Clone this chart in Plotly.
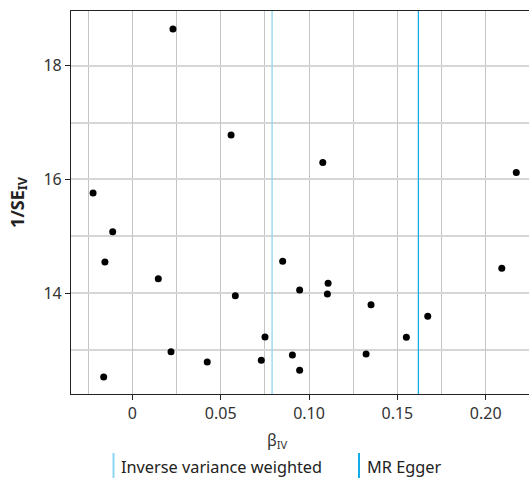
import plotly.graph_objects as go

# ---- data ----
beta_iv = [0.0230, 0.0559, -0.0222, -0.0111, 0.1078, 0.2173,
           -0.0155, 0.0147, 0.0583, 0.0751, 0.0219, 0.0424, 0.0730, -0.0162,
           0.0851, 0.0947, 0.1108, 0.1104, 0.1351, 0.1672, 0.1551, 0.1323,
           0.0906, 0.0947, 0.2091]
inv_se_iv = [18.645, 16.78, 15.76, 15.08, 16.30, 16.12,
             14.55, 14.257, 13.958, 13.232, 12.974, 12.793, 12.822, 12.529,
             14.562, 14.058, 14.176, 13.988, 13.80, 13.596, 13.227, 12.933,
             12.916, 12.647, 14.44]
method_names = ["Inverse variance weighted", "MR Egger"]
method_estimates = [0.0791, 0.1619]
method_colors = ["#8dd5f2", "#12ade6"]

x_ticks = [0, 0.05, 0.10, 0.15, 0.20]
x_ticklabels = ["0", "0.05", "0.10", "0.15", "0.20"]
y_ticks = [14, 16, 18]
y_ticklabels = ["14", "16", "18"]

FONT = "Noto Sans"
W, H = 529, 485
L, R, T, B = 71, 0, 11, 91
plot_h = H - T - B
plot_w = W - L - R


def px_x(p):
    return (p - L) / plot_w


def px_y(p):
    return (H - B - p) / plot_h


fig = go.Figure()

fig.add_trace(go.Scatter(
    x=beta_iv, y=inv_se_iv, mode="markers",
    marker=dict(color="black", size=7), showlegend=False,
    cliponaxis=False, name="SNPs"))

for name, est, col in zip(method_names, method_estimates, method_colors):
    fig.add_vline(x=est, line=dict(color=col, width=1.3), layer="above")

# manual legend (vertical key bars like the reference)
legend_bar_px = [113.5, 359]
legend_text_px = [119, 365]
for name, col, bx, tx in zip(method_names, method_colors, legend_bar_px, legend_text_px):
    fig.add_shape(type="line", xref="paper", yref="paper",
                  x0=px_x(bx), x1=px_x(bx), y0=px_y(478), y1=px_y(453),
                  line=dict(color=col, width=2))
    fig.add_annotation(text=name, xref="paper", yref="paper",
                       x=px_x(tx), y=px_y(467), xanchor="left", yanchor="middle",
                       showarrow=False, font=dict(family=FONT, size=16.3, color="#222222"))

# x axis title (placed as in the reference, slightly left of the panel centre)
fig.add_annotation(text="β<sub>IV</sub>", xref="paper", yref="paper",
                   x=px_x(277), y=px_y(440), xanchor="center", yanchor="middle",
                   showarrow=False, font=dict(family=FONT, size=16, color="#333333"))

fig.update_xaxes(
    range=[-0.0347, 0.2245], tickvals=x_ticks, ticktext=x_ticklabels,
    showgrid=True, gridcolor="#c4c4c4", gridwidth=1,
    minor=dict(dtick=0.05, tick0=-0.025, showgrid=True, gridcolor="#c4c4c4", gridwidth=1),
    showline=True, linecolor="#222222", linewidth=1.2, mirror=True,
    ticks="outside", ticklen=5, tickcolor="#222222", tickwidth=1,
    tickfont=dict(family=FONT, size=16, color="#333333"),
    zeroline=False,
)
fig.update_yaxes(
    range=[12.23, 18.96], tickvals=y_ticks, ticktext=y_ticklabels,
    title=dict(text="<b>1/SE<sub>IV</sub></b>", standoff=14,
               font=dict(family=FONT, size=18, color="#222222")),
    automargin=False,
    showgrid=True, gridcolor="#d6d6d6", gridwidth=1.5,
    minor=dict(dtick=2, tick0=13, showgrid=True, gridcolor="#d6d6d6", gridwidth=1.5),
    showline=True, linecolor="#222222", linewidth=1.2,
    ticks="outside", ticklen=5, tickcolor="#222222", tickwidth=1,
    tickfont=dict(family=FONT, size=16, color="#333333"),
    zeroline=False,
)

fig.update_layout(
    width=W, height=H,
    margin=dict(l=L, r=R, t=T, b=B, pad=0),
    plot_bgcolor="white", paper_bgcolor="white",
    showlegend=False,
    font=dict(family=FONT),
)

fig.write_html("out.html", config={"displayModeBar": False},
               post_script="document.body.style.margin='0';document.body.style.overflow='hidden';")
